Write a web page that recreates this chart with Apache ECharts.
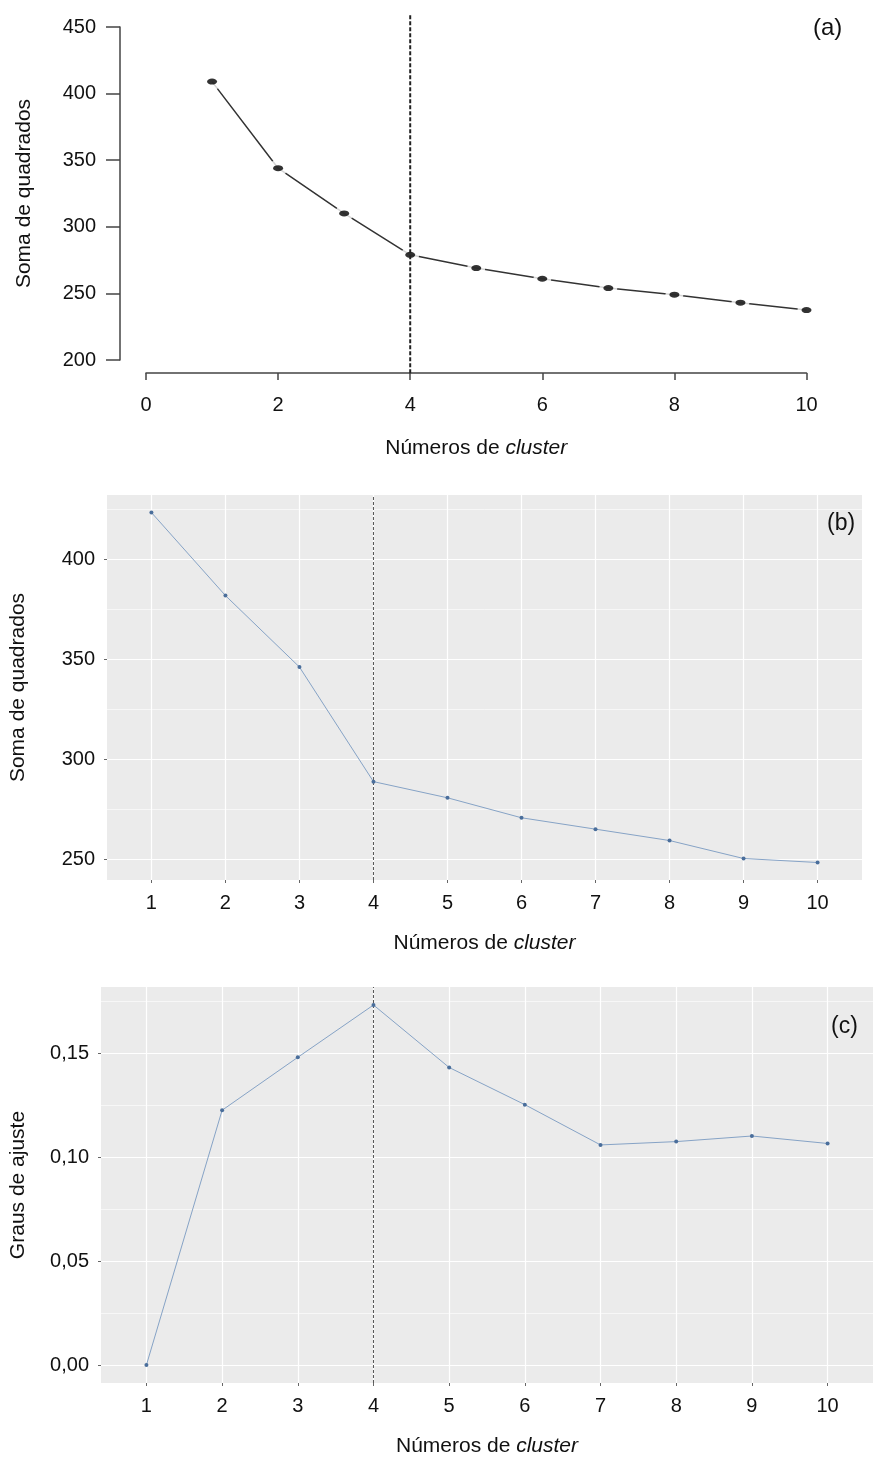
<!DOCTYPE html>
<html><head><meta charset="utf-8">
<script src="https://cdn.jsdelivr.net/npm/echarts@6/dist/echarts.min.js"></script>
<style>html,body{margin:0;padding:0;background:#fff}#c{width:873px;height:1458px}</style>
</head><body><div id="c"></div>
<script>
// ---- data ----
const clusters = [1, 2, 3, 4, 5, 6, 7, 8, 9, 10];
const wssA = [409, 344, 310, 279, 269, 261, 254, 249, 243, 237.5];
const xTicksA = [0, 2, 4, 6, 8, 10];
const yTicksA = [200, 250, 300, 350, 400, 450];

const wssB = [423.6, 382, 346.2, 288.8, 280.7, 270.7, 265, 259.3, 250.3, 248.3];
const yTicksB = [250, 300, 350, 400];
const yMinorB = [275, 325, 375, 425];

const fitC = [0, 0.1227, 0.1482, 0.1734, 0.1433, 0.1254, 0.1060, 0.1076, 0.1103, 0.1067];
const yTicksC = [0, 0.05, 0.10, 0.15];
const yMinorC = [0.025, 0.075, 0.125, 0.175];

const elbowK = 4;
const panelLabels = ['(a)', '(b)', '(c)'];
const xTitle = 'Números de {i|cluster}';
const yTitleAB = 'Soma de quadrados';
const yTitleC = 'Graus de ajuste';

// ---- helpers ----
const zip = (xs, ys) => xs.map((x, i) => [x, ys[i]]);
function expand(vals, f) { const mn = Math.min(...vals), mx = Math.max(...vals), r = mx - mn; return [mn - f * r, mx + f * r]; }
const FONT = 'Liberation Sans, Arial, sans-serif';
const FS = 20;
const NFS = 21;
const [bMin, bMax] = expand(wssB, 0.05);
const [cMin, cMax] = expand(fitC, 0.05);
const xDMin = clusters[0] - 0.6, xDMax = clusters[clusters.length - 1] + 0.6;
// R usr region for panel (a): 4% extension
const aXR = [xTicksA[0] - 0.04 * (xTicksA[xTicksA.length-1]-xTicksA[0]), xTicksA[xTicksA.length-1] + 0.04 * (xTicksA[xTicksA.length-1]-xTicksA[0])];
const aYR = [yTicksA[0] - 0.04 * (yTicksA[yTicksA.length-1]-yTicksA[0]), yTicksA[yTicksA.length-1] + 0.04 * (yTicksA[yTicksA.length-1]-yTicksA[0])];

const nameStyle = { fontSize: NFS, color: '#111', fontFamily: FONT, rich: { i: { fontSize: NFS, fontStyle: 'italic', color: '#111', fontFamily: FONT } } };
const labStyle = { fontSize: FS, color: '#111', fontFamily: FONT };

function ggX(grid) {
  return {
    type: 'value', gridIndex: grid, min: xDMin, max: xDMax,
    axisLine: { show: false, onZero: false },
    axisTick: { show: true, length: 3, lineStyle: { color: '#666', width: 1 }, customValues: clusters },
    axisLabel: Object.assign({ margin: 13, customValues: clusters }, labStyle),
    splitLine: { show: true, lineStyle: { color: '#fff', width: 1.2 } },
    name: xTitle, nameLocation: 'middle', nameGap: 53, nameTextStyle: nameStyle
  };
}
function ggY(grid, mn, mx, ticks, fmt, name, gap) {
  return {
    type: 'value', gridIndex: grid, min: mn, max: mx, position: 'left',
    axisLine: { show: false, onZero: false },
    axisTick: { show: true, length: 3, lineStyle: { color: '#666', width: 1 }, customValues: ticks },
    axisLabel: Object.assign({ margin: 12, customValues: ticks, formatter: fmt }, labStyle),
    splitLine: { show: true, lineStyle: { color: '#fff', width: 1.2 } },
    name: name, nameLocation: 'middle', nameGap: gap, nameTextStyle: nameStyle
  };
}
function ggYMinor(grid, mn, mx, ticks) {
  return {
    type: 'value', gridIndex: grid, min: mn, max: mx, position: 'left',
    axisLine: { show: false, onZero: false },
    axisTick: { show: true, length: 0, lineStyle: { color: 'rgba(0,0,0,0)' }, customValues: ticks },
    axisLabel: { show: false, customValues: ticks },
    splitLine: { show: true, lineStyle: { color: '#fff', width: 0.6 } }
  };
}

const option = {
  animation: false,
  backgroundColor: '#fff',
  title: [
    { text: panelLabels[0], left: 808, top: 11, textStyle: { fontSize: 24, fontWeight: 'normal', color: '#111', fontFamily: FONT } },
    { text: panelLabels[1], left: 822, top: 507, textStyle: { fontSize: 23, fontWeight: 'normal', color: '#111', fontFamily: FONT } },
    { text: panelLabels[2], left: 826, top: 1010, textStyle: { fontSize: 23, fontWeight: 'normal', color: '#111', fontFamily: FONT } }
  ],
  grid: [
    { left: 146, right: 66.5, top: 27, bottom: 1098, containLabel: false },
    { left: 119.6, right: 40.1, top: 13.7, bottom: 1084.7, containLabel: false },
    { left: 104, right: 11, top: 495, bottom: 578, show: true, backgroundColor: '#ebebeb', borderWidth: 0 },
    { left: 98, right: 0, top: 987, bottom: 72, show: true, backgroundColor: '#ebebeb', borderWidth: 0 }
  ],
  xAxis: [
    { type: 'value', gridIndex: 0, min: xTicksA[0], max: xTicksA[xTicksA.length-1], interval: 2, offset: 13,
      axisLine: { show: true, onZero: false, lineStyle: { color: '#444', width: 1.5 } },
      axisTick: { show: true, length: 7, lineStyle: { color: '#444', width: 1.5 } },
      axisLabel: Object.assign({ margin: 22 }, labStyle),
      splitLine: { show: false },
      name: xTitle, nameLocation: 'middle', nameGap: 65, nameTextStyle: nameStyle },
    { type: 'value', gridIndex: 1, min: aXR[0], max: aXR[1], show: false },
    ggX(2), ggX(3)
  ],
  yAxis: [
    { type: 'value', gridIndex: 0, min: yTicksA[0], max: yTicksA[yTicksA.length-1], interval: 50, offset: 26,
      axisLine: { show: true, onZero: false, lineStyle: { color: '#444', width: 1.5 } },
      axisTick: { show: true, length: 14, lineStyle: { color: '#444', width: 1.5 } },
      axisLabel: Object.assign({ margin: 24 }, labStyle),
      splitLine: { show: false },
      name: yTitleAB, nameLocation: 'middle', nameGap: 85, nameTextStyle: nameStyle },
    { type: 'value', gridIndex: 1, min: aYR[0], max: aYR[1], show: false },
    ggY(2, bMin, bMax, yTicksB, v => String(v), yTitleAB, 78),
    ggYMinor(2, bMin, bMax, yMinorB),
    ggY(3, cMin, cMax, yTicksC, v => v.toFixed(2).replace('.', ','), yTitleC, 72),
    ggYMinor(3, cMin, cMax, yMinorC)
  ],
  series: [
    // panel (a)
    { type: 'line', xAxisIndex: 0, yAxisIndex: 0, data: zip(clusters, wssA), showSymbol: false, silent: true,
      lineStyle: { color: '#333', width: 1.5 }, z: 2 },
    { type: 'scatter', xAxisIndex: 0, yAxisIndex: 0, data: zip(clusters, wssA), symbol: 'circle', symbolSize: 18,
      itemStyle: { color: '#fff' }, silent: true, z: 3 },
    { type: 'scatter', xAxisIndex: 0, yAxisIndex: 0, data: zip(clusters, wssA), symbol: 'circle', symbolSize: [10, 6],
      itemStyle: { color: '#000' }, silent: true, z: 4 },
    { type: 'line', xAxisIndex: 1, yAxisIndex: 1, data: [[elbowK, aYR[0]], [elbowK, aYR[1]]], showSymbol: false, symbol: 'none',
      lineStyle: { color: '#222', width: 2, type: [4, 2] }, silent: true, z: 5 },
    // panel (b)
    { type: 'line', xAxisIndex: 2, yAxisIndex: 2, data: [[elbowK, bMin], [elbowK, bMax]], symbol: 'none',
      lineStyle: { color: '#555', width: 1, type: [3, 2] }, silent: true, z: 2 },
    { type: 'line', xAxisIndex: 2, yAxisIndex: 2, data: zip(clusters, wssB), symbol: 'circle', symbolSize: 4, showSymbol: true,
      lineStyle: { color: '#86a3c6', width: 1 }, itemStyle: { color: '#4a6e9b' }, silent: true, z: 3 },
    // panel (c)
    { type: 'line', xAxisIndex: 3, yAxisIndex: 4, data: [[elbowK, cMin], [elbowK, cMax]], symbol: 'none',
      lineStyle: { color: '#555', width: 1, type: [3, 2] }, silent: true, z: 2 },
    { type: 'line', xAxisIndex: 3, yAxisIndex: 4, data: zip(clusters, fitC), symbol: 'circle', symbolSize: 4, showSymbol: true,
      lineStyle: { color: '#86a3c6', width: 1 }, itemStyle: { color: '#4a6e9b' }, silent: true, z: 3 }
  ]
};
const chart = echarts.init(document.getElementById('c'), null, { renderer: 'canvas' });
chart.setOption(option);
</script>
</body></html>
